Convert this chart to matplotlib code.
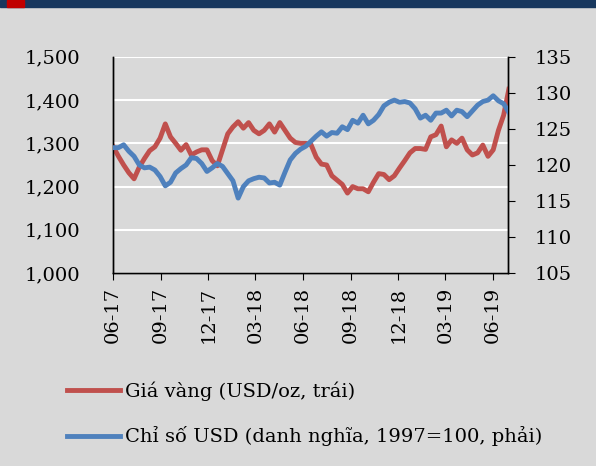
import matplotlib
matplotlib.use("Agg")
import matplotlib.pyplot as plt
import matplotlib.dates as mdates
import pandas as pd

plt.rcParams["font.family"] = ["DejaVu Serif", "Liberation Serif"]

# readings every 10 days from 2017-06-01
start = "2017-06-01"
gold = [1292, 1270, 1250, 1232, 1218, 1245, 1265, 1283, 1292, 1312,
        1345, 1315, 1300, 1284, 1297, 1273, 1280, 1285, 1285, 1260,
        1248, 1285, 1322, 1338, 1350, 1335, 1348, 1330, 1322, 1330,
        1345, 1326, 1348, 1330, 1312, 1302, 1300, 1300, 1297, 1268,
        1252, 1250, 1225, 1215, 1205, 1185, 1200, 1195, 1195, 1188,
        1210, 1230, 1228, 1216, 1225, 1243, 1260, 1278, 1288, 1288,
        1286, 1315, 1320, 1340, 1292, 1308, 1300, 1312, 1285, 1273,
        1278, 1296, 1270, 1285, 1330, 1365, 1425]
usd = [122.4, 122.4, 122.8, 121.9, 121.2, 120.0, 119.6, 119.7, 119.3, 118.4,
       117.1, 117.6, 118.9, 119.5, 120.0, 121.0, 120.9, 120.2, 119.1, 119.6,
       120.2, 119.8, 118.8, 117.8, 115.4, 117.0, 117.8, 118.1, 118.3, 118.2,
       117.5, 117.6, 117.2, 119.0, 120.7, 121.6, 122.2, 122.6, 123.3, 124.0,
       124.6, 124.0, 124.5, 124.4, 125.3, 124.9, 126.2, 125.8, 126.9, 125.7,
       126.2, 127.0, 128.2, 128.7, 129.0, 128.7, 128.8, 128.6, 127.8, 126.5,
       126.9, 126.2, 127.2, 127.2, 127.6, 126.8, 127.6, 127.4, 126.7, 127.5,
       128.3, 128.8, 129.0, 129.6, 128.9, 128.5, 127.3]
dates = pd.date_range(start, periods=len(gold), freq="10D")

gold_label = "Giá vàng (USD/oz, trái)"
usd_label = "Chỉ số USD (danh nghĩa, 1997=100, phải)"
left_ticks = [1000, 1100, 1200, 1300, 1400, 1500]
right_ticks = [105, 110, 115, 120, 125, 130, 135]

bg = "#d9d9d9"
red = "#c0504d"
blue = "#4f81bd"

fig = plt.figure(figsize=(5.96, 4.66), dpi=100, facecolor=bg)
ax = fig.add_axes([0.19, 0.414, 0.662, 0.464])
ax.set_facecolor(bg)
ax2 = ax.twinx()

ax.plot(dates, gold, color=red, lw=3.5, label=gold_label, zorder=3)
ax2.plot(dates, usd, color=blue, lw=3.5, label=usd_label, zorder=3)

ax.set_ylim(1000, 1500)
ax.set_yticks(left_ticks)
ax.set_yticklabels([f"{v:,}" for v in left_ticks])
ax2.set_ylim(105, 135)
ax2.set_yticks(right_ticks)
ax.set_xlim(pd.Timestamp("2017-06-01"), pd.Timestamp("2019-06-29"))

ax.grid(axis="y", color="white", lw=1.5, zorder=0)
ax.set_axisbelow(True)
ax.xaxis.set_major_locator(mdates.MonthLocator(bymonth=[3, 6, 9, 12]))
ax.xaxis.set_major_formatter(mdates.DateFormatter("%m-%y"))

for a in (ax, ax2):
    a.spines["top"].set_visible(False)
    for s in ("left", "right", "bottom"):
        a.spines[s].set_color("black")
        a.spines[s].set_linewidth(1)
ax.tick_params(axis="y", length=0, labelsize=14, pad=24)
ax.tick_params(axis="x", direction="out", length=5, labelsize=14, labelrotation=90, pad=5)
ax2.tick_params(axis="y", direction="out", length=5, labelsize=14, pad=14)

h1, l1 = ax.get_legend_handles_labels()
h2, l2 = ax2.get_legend_handles_labels()
fig.legend(h1 + h2, l1 + l2, loc="upper left", bbox_to_anchor=(0.112, 0.181),
           frameon=False, fontsize=14, handlelength=2.73, handletextpad=0.26,
           labelspacing=1.3, borderpad=0, borderaxespad=0)

# header band
fig.patches.append(plt.Rectangle((0, 0.985), 1, 0.015, transform=fig.transFigure,
                                 color="#17375e", zorder=5))
fig.patches.append(plt.Rectangle((0.012, 0.985), 0.029, 0.015, transform=fig.transFigure,
                                 color="#c00000", zorder=6))

fig.savefig("out.png", dpi=100, facecolor=bg)
